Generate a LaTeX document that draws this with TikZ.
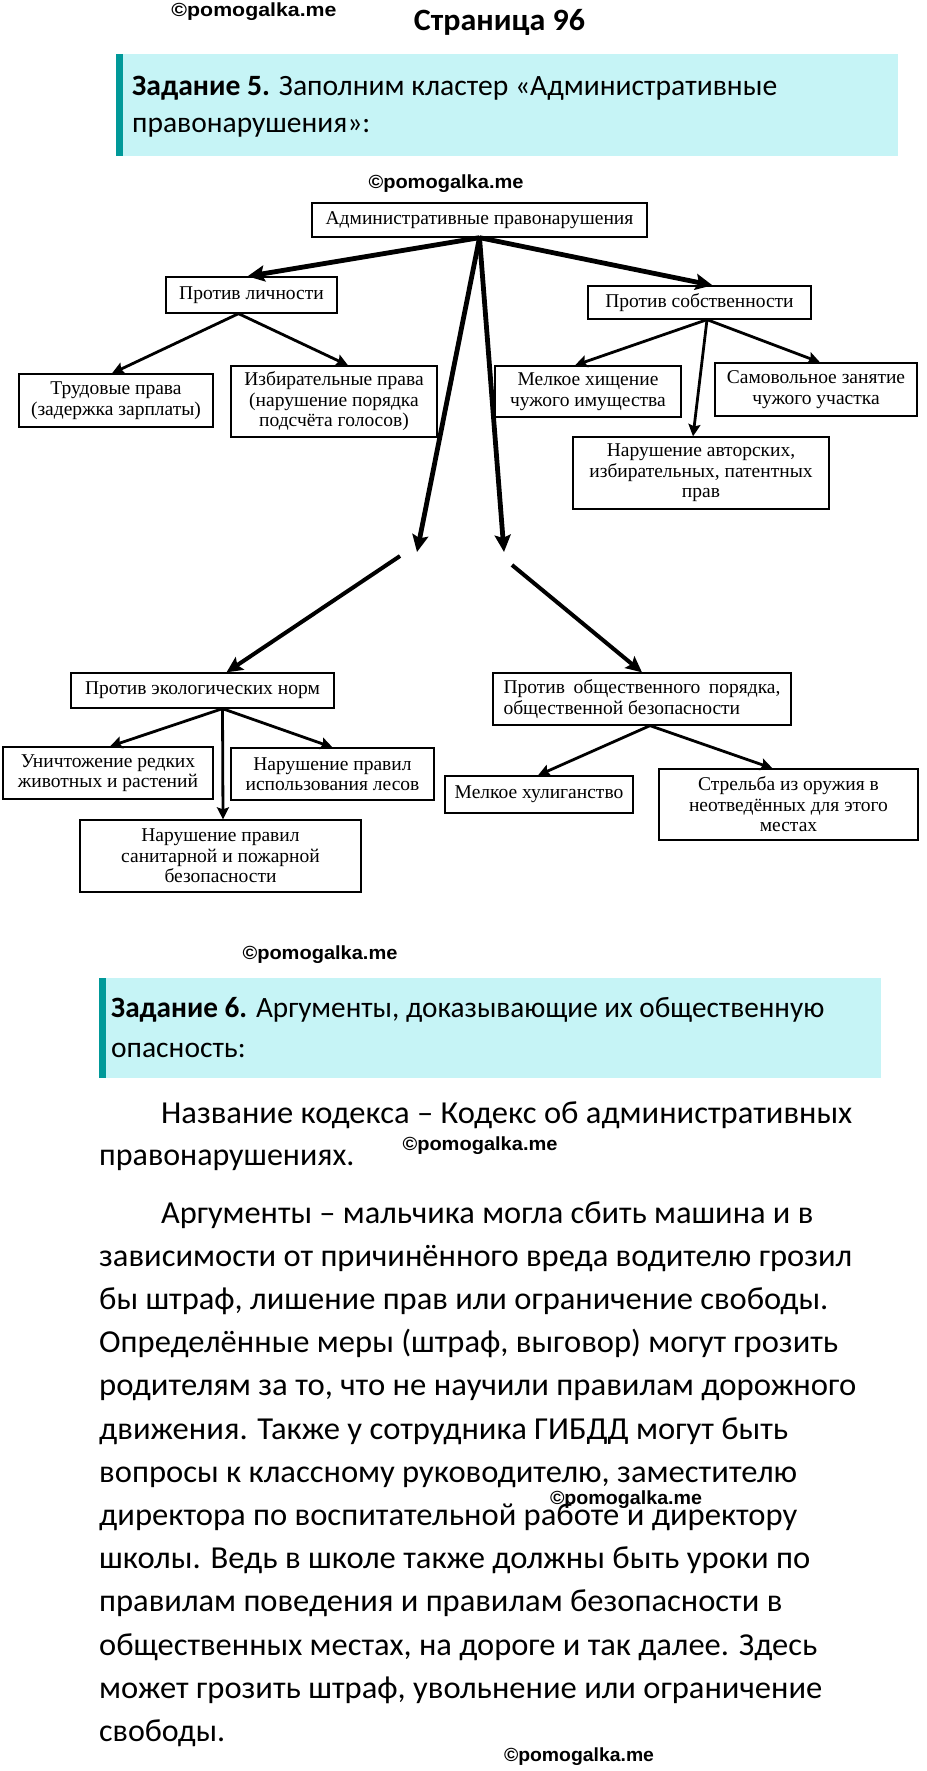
\documentclass[tikz,border=0pt]{standalone}
\usepackage{fontspec}
\usepackage{graphicx}
\setmainfont{Carlito}
\newfontfamily\tnr{Liberation Serif}
\newfontfamily\wmfont{Liberation Sans}
\usetikzlibrary{arrows.meta,calc}
\definecolor{tealbar}{RGB}{0,153,153}
\definecolor{tealfill}{RGB}{198,244,246}
\newcommand\fitw[2]{\resizebox{#1pt}{\height}{#2}}
\tikzset{
  box/.style={draw=black, line width=1.3pt, fill=white, inner sep=0pt, align=center,
    font=\tnr\fontsize{19.5}{20.5}\selectfont},
  wm/.style={font=\wmfont\bfseries\fontsize{19}{22}\selectfont, inner sep=0pt},
  bigarrow/.style={line width=4.8pt, -{Stealth[length=17pt,width=16pt,inset=3pt]}},
  midarrow/.style={line width=4pt, -{Stealth[length=16pt,width=15pt,inset=3pt]}},
  smallarrow/.style={line width=2.8pt, -{Stealth[length=12pt,width=12pt,inset=2pt]}},
  bodyline/.style={font=\fontsize{32}{43}\selectfont, inner sep=0pt, anchor=base west},
  headline/.style={font=\fontsize{29.5}{37}\selectfont, inner sep=0pt, anchor=base west},
}
\begin{document}
\begin{tikzpicture}[x=1pt,y=-1pt]
\useasboundingbox (0,0) rectangle (926,1771);
\fill[white] (0,0) rectangle (926,1771);

% header
\node[wm] (wm1) at (254,12) {\fitw{165}{©pomogalka.me}};
\node[font=\bfseries\fontsize{31}{34}\selectfont, inner sep=0pt, anchor=base] (title) at (499.5,31) {\fitw{171}{Страница 96}};

% task 5 box
\fill[tealfill] (116,54) rectangle (898,156);
\fill[tealbar] (116,54) rectangle (123,156);
\node[headline] (t5a) at (132,96) {\fitw{645}{\textbf{Задание 5.} Заполним кластер «Административные}};
\node[headline] (t5b) at (132,133) {правонарушения»:};

% diagram
\node[wm] (wm2) at (446,184) {\fitw{155}{©pomogalka.me}};
\node[box, minimum width=335pt, minimum height=34pt] (root) at (479.5,220) {Административные правонарушения};
\node[box, minimum width=171pt, minimum height=36pt] (lich) at (251.5,295) {Против личности};
\node[box, minimum width=223pt, minimum height=33pt] (sobst) at (699.5,302.5) {Против собственности};
\node[box, minimum width=194pt, minimum height=53pt] (trud) at (116,400.5) {Трудовые права\\(задержка зарплаты)};
\node[box, minimum width=206pt, minimum height=71pt] (izbir) at (334,401.5) {Избирательные права\\(нарушение порядка\\подсчёта голосов)};
\node[box, minimum width=186pt, minimum height=51pt] (hisch) at (588,391.5) {Мелкое хищение\\чужого имущества};
\node[box, minimum width=202pt, minimum height=53pt] (samov) at (816,389.5) {Самовольное занятие\\чужого участка};
\node[box, minimum width=256pt, minimum height=72pt] (avtor) at (701,473) {Нарушение авторских,\\избирательных, патентных\\прав};
\node[box, minimum width=263pt, minimum height=35pt] (ekol) at (202.5,690.5) {Против экологических норм};
\node[box, minimum width=298pt, minimum height=52pt, align=left] (obsch) at (642,699) {\makebox[277pt][s]{Против общественного порядка,}\\общественной безопасности};
\node[box, minimum width=210pt, minimum height=52pt] (unich) at (108,773) {Уничтожение редких\\животных и растений};
\node[box, minimum width=203pt, minimum height=52pt] (lesov) at (332.5,774) {Нарушение правил\\использования лесов};
\node[box, minimum width=281pt, minimum height=72pt] (sanit) at (220.5,856) {Нарушение правил\\санитарной и пожарной\\безопасности};
\node[box, minimum width=188pt, minimum height=37pt] (hulig) at (539,794.5) {Мелкое хулиганство};
\node[box, minimum width=259pt, minimum height=71pt] (strel) at (788.5,804.5) {Стрельба из оружия в\\неотведённых для этого\\местах};

\coordinate (L1) at (417,552);
\coordinate (R1) at (504,552);
\coordinate (L2) at (400,556);
\coordinate (R2) at (512,565);

\draw[bigarrow] (root.south) -- ($(lich.north)+(-4,0)$);
\draw[bigarrow] (root.south) -- ($(sobst.north)+(13,0)$);
\draw[bigarrow] (root.south) -- (L1);
\draw[bigarrow] (root.south) -- (R1);
\draw[midarrow] (L2) -- ($(ekol.north)+(24,0)$);
\draw[midarrow] (R2) -- (obsch.north);

\draw[smallarrow] ($(lich.south)+(-13,0)$) -- ($(trud.north)+(-4,0)$);
\draw[smallarrow] ($(lich.south)+(-13,0)$) -- ($(izbir.north)+(14,0)$);
\draw[smallarrow] ($(sobst.south)+(7.5,0)$) -- ($(hisch.north)+(-13,0)$);
\draw[smallarrow] ($(sobst.south)+(7.5,0)$) -- ($(samov.north)+(4,0)$);
\draw[smallarrow] ($(sobst.south)+(7.5,0)$) -- ($(avtor.north)+(-8,0)$);
\draw[smallarrow] ($(ekol.south)+(20,0)$) -- ($(unich.north)+(2,0)$);
\draw[smallarrow] ($(ekol.south)+(20,0)$) -- (lesov.north);
\draw[smallarrow] ($(ekol.south)+(20,0)$) -- ($(sanit.north)+(2.5,0)$);
\draw[smallarrow] ($(obsch.south)+(8,0)$) -- ($(hulig.north)+(-1,0)$);
\draw[smallarrow] ($(obsch.south)+(8,0)$) -- ($(strel.north)+(-16,0)$);

\node[wm] (wm3) at (320,955) {\fitw{155}{©pomogalka.me}};

% task 6 box
\fill[tealfill] (99,978) rectangle (881,1078);
\fill[tealbar] (99,978) rectangle (106,1078);
\node[headline] (t6a) at (111,1017) {\fitw{713}{\textbf{Задание 6.} Аргументы, доказывающие их общественную}};
\node[headline] (t6b) at (111,1057) {опасность:};

% body
\node[bodyline] (p1a) at (161,1123) {\fitw{691}{Название кодекса – Кодекс об административных}};
\node[bodyline] (p1b) at (99,1165) {правонарушениях.};
\node[bodyline] (b1) at (161,1223.0) {\fitw{652}{Аргументы – мальчика могла сбить машина и в}};
\node[bodyline] (b2) at (99,1266.2) {\fitw{753}{зависимости от причинённого вреда водителю грозил}};
\node[bodyline] (b3) at (99,1309.4) {\fitw{729}{бы штраф, лишение прав или ограничение свободы.}};
\node[bodyline] (b4) at (99,1352.6) {\fitw{739}{Определённые меры (штраф, выговор) могут грозить}};
\node[bodyline] (b5) at (99,1395.8) {\fitw{757}{родителям за то, что не научили правилам дорожного}};
\node[bodyline] (b6) at (99,1439.0) {\fitw{689}{движения. Также у сотрудника ГИБДД могут быть}};
\node[bodyline] (b7) at (99,1482.2) {\fitw{698}{вопросы к классному руководителю, заместителю}};
\node[bodyline] (b8) at (99,1525.4) {\fitw{698}{директора по воспитательной работе и директору}};
\node[bodyline] (b9) at (99,1568.6) {\fitw{711}{школы. Ведь в школе также должны быть уроки по}};
\node[bodyline] (b10) at (99,1611.8) {\fitw{683}{правилам поведения и правилам безопасности в}};
\node[bodyline] (b11) at (99,1655.0) {\fitw{718}{общественных местах, на дороге и так далее. Здесь}};
\node[bodyline] (b12) at (99,1698.2) {\fitw{723}{может грозить штраф, увольнение или ограничение}};
\node[bodyline] (b13) at (99,1741.4) {свободы.};

\node[wm] (wm4) at (480,1146) {\fitw{155}{©pomogalka.me}};
\node[wm] (wm5) at (626,1500) {\fitw{152}{©pomogalka.me}};
\node[wm] (wm6) at (579,1757) {\fitw{150}{©pomogalka.me}};
\end{tikzpicture}
\end{document}
